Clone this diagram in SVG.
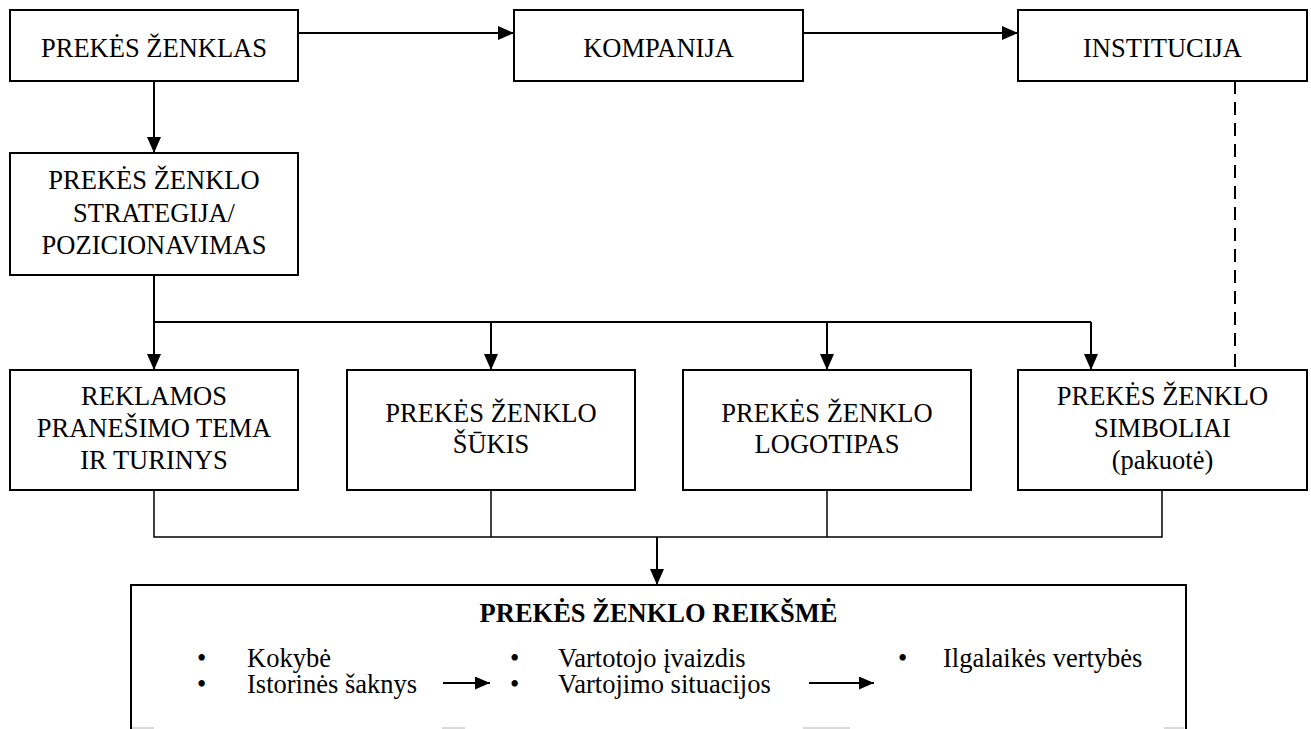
<svg xmlns="http://www.w3.org/2000/svg" width="1311" height="729" viewBox="0 0 1311 729">
<defs>
<style>
.box{fill:#fff;stroke:#000;stroke-width:2}
text{font-family:'Liberation Serif','Times New Roman','DejaVu Serif',serif;font-size:26.5px;fill:#000}
.t{text-anchor:middle}
.b{font-weight:bold}
.c{fill:none;stroke:#000;stroke-width:2}
.cs{fill:none;stroke:#000;stroke-width:1.5}
.d{fill:none;stroke:#000;stroke-width:2;stroke-dasharray:13 8}
.g{fill:#d9d9d9}
</style>
<marker id="ah" markerUnits="userSpaceOnUse" markerWidth="16" markerHeight="14" refX="16" refY="7" orient="auto">
<path d="M0,0 L16,7 L0,14 Z" fill="#000"/>
</marker>
<marker id="ahs" markerUnits="userSpaceOnUse" markerWidth="15" markerHeight="13" refX="15" refY="6.5" orient="auto">
<path d="M0,0 L15,6.5 L0,13 Z" fill="#000"/>
</marker>
</defs>
<rect width="1311" height="729" fill="#fff"/>

<g id="connectors">
<path class="c" d="M298,33 H514" marker-end="url(#ah)"/>
<path class="c" d="M803,33 H1018" marker-end="url(#ah)"/>
<path class="c" d="M154,81 V153" marker-end="url(#ah)"/>
<path class="c" d="M154,275 V370" marker-end="url(#ah)"/>
<path class="c" d="M154,322 H1091"/>
<path class="c" d="M491,322 V370" marker-end="url(#ah)"/>
<path class="c" d="M827,322 V370" marker-end="url(#ah)"/>
<path class="c" d="M1091,322 V370" marker-end="url(#ah)"/>
<path class="d" d="M1235,81 V370"/>
<path class="cs" d="M154,490 V537 H1162 V490"/>
<path class="cs" d="M491,490 V537"/>
<path class="cs" d="M827,490 V537"/>
<path class="c" d="M657,537 V585" marker-end="url(#ah)"/>
</g>

<g id="n-preke">
<rect class="box" x="10" y="10" width="288" height="71"/>
<text class="t" x="154" y="57">PREKĖS ŽENKLAS</text>
</g>
<g id="n-kompanija">
<rect class="box" x="514" y="10" width="289" height="71"/>
<text class="t" x="658.5" y="57">KOMPANIJA</text>
</g>
<g id="n-institucija">
<rect class="box" x="1018" y="10" width="289" height="71"/>
<text class="t" x="1162.5" y="57">INSTITUCIJA</text>
</g>
<g id="n-strategija">
<rect class="box" x="10" y="153" width="288" height="122"/>
<text class="t" x="154" y="189">PREKĖS ŽENKLO</text>
<text class="t" x="154" y="222">STRATEGIJA/</text>
<text class="t" x="154" y="254">POZICIONAVIMAS</text>
</g>
<g id="n-reklamos">
<rect class="box" x="10" y="370" width="288" height="120"/>
<text class="t" x="154" y="405">REKLAMOS</text>
<text class="t" x="154" y="437">PRANEŠIMO TEMA</text>
<text class="t" x="154" y="469">IR TURINYS</text>
</g>
<g id="n-sukis">
<rect class="box" x="347" y="370" width="288" height="120"/>
<text class="t" x="491" y="422">PREKĖS ŽENKLO</text>
<text class="t" x="491" y="453">ŠŪKIS</text>
</g>
<g id="n-logotipas">
<rect class="box" x="683" y="370" width="288" height="120"/>
<text class="t" x="827" y="422">PREKĖS ŽENKLO</text>
<text class="t" x="827" y="453">LOGOTIPAS</text>
</g>
<g id="n-simboliai">
<rect class="box" x="1018" y="370" width="289" height="120"/>
<text class="t" x="1162.5" y="405">PREKĖS ŽENKLO</text>
<text class="t" x="1162.5" y="437">SIMBOLIAI</text>
<text class="t" x="1162.5" y="469">(pakuotė)</text>
</g>
<g id="n-reiksme">
<rect class="box" x="131" y="585" width="1055" height="160"/>
<text class="t b" x="658.5" y="622">PREKĖS ŽENKLO REIKŠMĖ</text>
<text x="197" y="667">•</text>
<text x="247" y="667">Kokybė</text>
<text x="197" y="693">•</text>
<text x="247" y="693">Istorinės šaknys</text>
<path class="c" d="M443,683 H490" marker-end="url(#ahs)"/>
<text x="510" y="667">•</text>
<text x="558" y="667">Vartotojo įvaizdis</text>
<text x="510" y="693">•</text>
<text x="558" y="693">Vartojimo situacijos</text>
<path class="c" d="M809,683 H874" marker-end="url(#ahs)"/>
<text x="898" y="667">•</text>
<text x="943" y="667">Ilgalaikės vertybės</text>
</g>
<rect class="g" x="132" y="727" width="22" height="2"/>
<rect class="g" x="442" y="727" width="23" height="2"/>
<rect class="g" x="803" y="727" width="47" height="2"/>
<rect class="g" x="1164" y="727" width="20" height="2"/>
</svg>
